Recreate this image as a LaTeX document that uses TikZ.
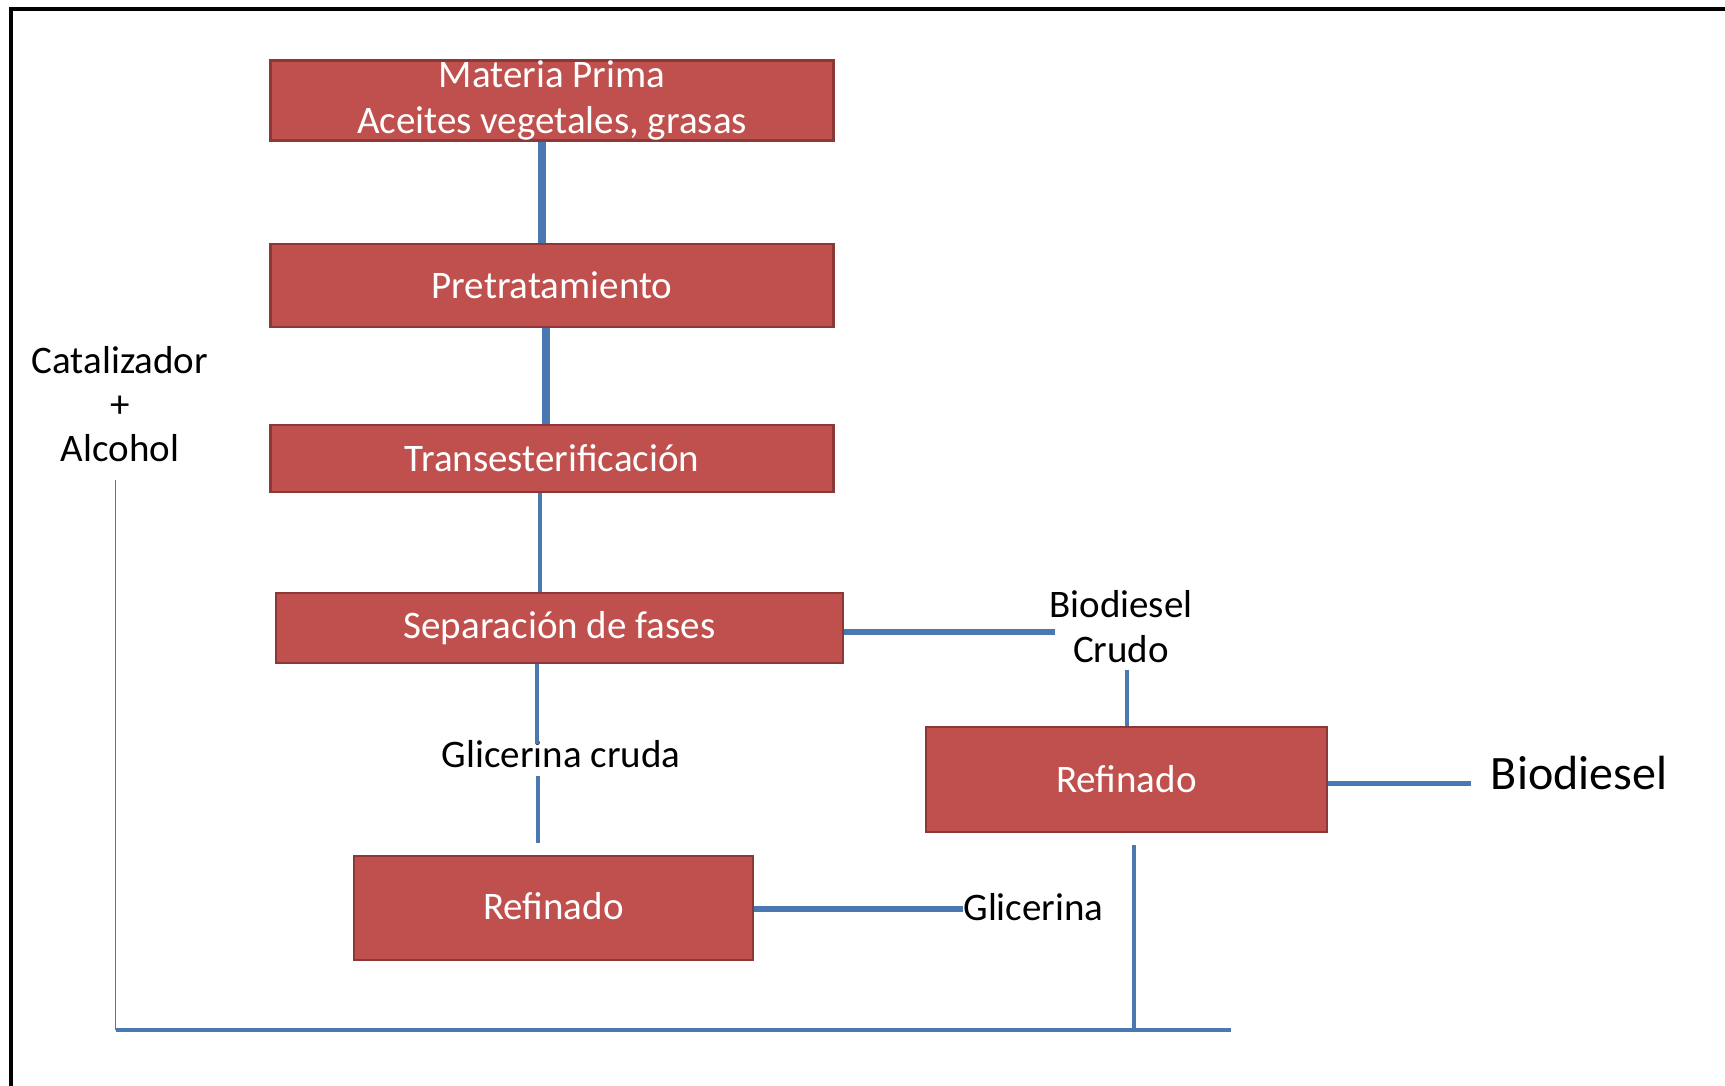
\documentclass[tikz,border=0pt]{standalone}
\usepackage{fontspec}
\setmainfont{Carlito}
\definecolor{boxred}{HTML}{C0504D}
\definecolor{boxedge}{HTML}{8C3836}
\definecolor{flow}{HTML}{4A78B0}
\begin{document}
\begin{tikzpicture}[x=0.5pt,y=-0.5pt,
  proc/.style={draw=boxedge, line width=1.2pt, fill=boxred, text=white,
    font=\fontsize{19.5}{23}\selectfont, align=center, inner sep=0pt},
  lbl/.style={font=\fontsize{19.5}{22.5}\selectfont, align=center, inner sep=0pt},
  bigflow/.style={draw=flow, line width=4.2pt},
  midflow/.style={draw=flow, line width=2.6pt},
  thinflow/.style={draw=flow, line width=1.8pt},
  hairflow/.style={draw=flow, line width=0.9pt}
]
\useasboundingbox (0,0) rectangle (1725,1086);
% frame
\draw[line width=1.65pt] (11,1086) -- (11,9) -- (1725,9);

% process boxes
\node[proc, minimum width=281.5pt, minimum height=40pt] (b1) at (552,100.5)
  {Materia Prima\\Aceites vegetales, grasas};
\node[proc, minimum width=281.5pt, minimum height=41.5pt] (b2) at (552,285.5) {Pretratamiento};
\node[proc, minimum width=281.5pt, minimum height=33.5pt] (b3) at (552,458.5) {Transesterificación};
\node[proc, minimum width=283.5pt, minimum height=35pt] (b4) at (559.5,628) {Separación de fases};
\node[proc, minimum width=200.5pt, minimum height=52.5pt] (b5) at (1126.5,779.5) {Refinado};
\node[proc, minimum width=199.5pt, minimum height=52pt] (b6) at (553.5,908) {\raisebox{2pt}{Refinado}};

% labels
\node[lbl] (crudo) at (1121,627) {Biodiesel\\Crudo};
\node[lbl, font=\fontsize{24}{28}\selectfont] (bio) at (1579,773) {Biodiesel};
\node[lbl] (gc) at (561,754) {Glicerina cruda};
\node[lbl, anchor=west] (gli) at (963,907) {Glicerina};
\node[lbl, font=\fontsize{19.5}{22}\selectfont] (cat) at (120,404) {Catalizador\\+\\Alcohol};

% helper x positions
\coordinate (x1) at (542,0);
\coordinate (x2) at (546,0);
\coordinate (x3) at (540,0);
\coordinate (x4) at (537,0);
\coordinate (x5) at (538,0);
\coordinate (x6) at (1127,0);
\coordinate (xc) at (115.5,0);
\coordinate (xj) at (1134,0);

% connectors
\draw[bigflow] (x1 |- b1.south) -- (x1 |- b2.north);
\draw[bigflow] (x2 |- b2.south) -- (x2 |- b3.north);
\draw[thinflow] (x3 |- b3.south) -- (x3 |- b4.north);
\draw[thinflow, shorten >=-2pt] (x4 |- b4.south) -- (x4 |- gc.north);
\draw[thinflow, shorten <=4pt, shorten >=6pt] (x5 |- gc.south) -- (x5 |- b6.north);
\draw[midflow, shorten >=-3pt] ([yshift=-2pt]b4.east) -- ([yshift=-2pt]b4.east -| crudo.west);
\draw[thinflow, shorten <=3pt] (x6 |- crudo.south) -- (x6 |- b5.north);
\draw[midflow, shorten >=10pt] ([yshift=-2pt]b5.east) -- ([yshift=-2pt]b5.east -| bio.west);
\draw[midflow] ([yshift=-0.5pt]b6.east) -- ([yshift=-0.5pt]b6.east -| gli.west);

% catalyst / alcohol recycle line
\coordinate (corner) at (115.5,1030);
\coordinate (loopend) at (1231,1030);
\coordinate (junct) at (1134,1030);
\draw[hairflow, shorten <=9pt] (xc |- cat.south) -- (corner);
\draw[thinflow] (corner) -- (loopend);
\draw[thinflow, shorten >=6pt] (junct) -- (xj |- b5.south);
\end{tikzpicture}
\end{document}
